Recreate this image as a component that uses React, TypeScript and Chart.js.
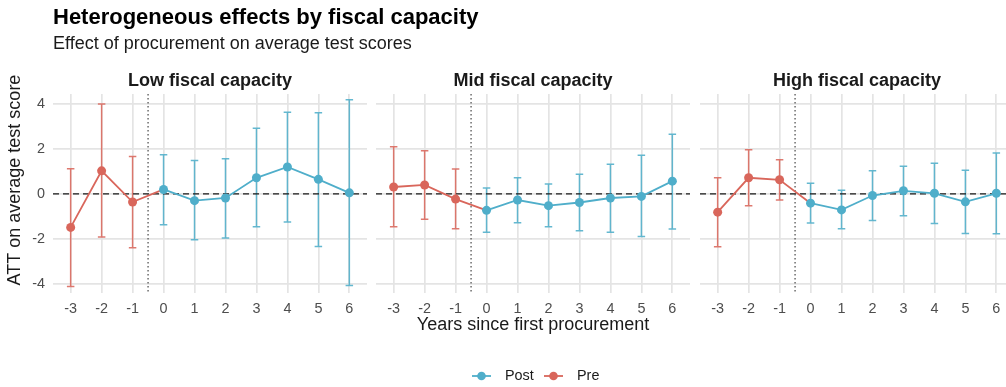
import React, { useEffect, useRef } from "react";
import { Chart, registerables } from "chart.js";

Chart.register(...registerables);

const FONT = '"Liberation Sans", Arial, Helvetica, sans-serif';
const PRE_COLOR = "#D9665B";
const POST_COLOR = "#4FAECA";
const PRE_ERR = "rgba(217,102,91,0.88)";
const POST_ERR = "rgba(79,174,202,0.88)";

// Event time (years relative to first procurement) and axis ticks
const years = [-3, -2, -1, 0, 1, 2, 3, 4, 5, 6];
const yTicks = [-4, -2, 0, 2, 4];

const panelTitles = ["Low fiscal capacity", "Mid fiscal capacity", "High fiscal capacity"];

// Point estimates and 95% interval bounds, one array per panel
const lowEst = [-1.49, 1.03, -0.36, 0.2, -0.3, -0.18, 0.72, 1.2, 0.65, 0.05];
const lowLo = [-4.12, -1.92, -2.39, -1.37, -2.04, -1.96, -1.46, -1.25, -2.34, -4.08];
const lowHi = [1.12, 4.0, 1.67, 1.74, 1.49, 1.57, 2.92, 3.64, 3.61, 4.19];

const midEst = [0.31, 0.4, -0.23, -0.73, -0.27, -0.52, -0.38, -0.18, -0.11, 0.57];
const midLo = [-1.46, -1.13, -1.55, -1.71, -1.28, -1.46, -1.64, -1.7, -1.89, -1.56];
const midHi = [2.1, 1.92, 1.11, 0.26, 0.72, 0.44, 0.88, 1.32, 1.72, 2.66];

const highEst = [-0.81, 0.72, 0.63, -0.41, -0.71, -0.07, 0.14, 0.03, -0.35, 0.03];
const highLo = [-2.35, -0.52, -0.27, -1.29, -1.55, -1.18, -0.97, -1.32, -1.76, -1.77];
const highHi = [0.72, 1.97, 1.52, 0.48, 0.17, 1.03, 1.23, 1.37, 1.06, 1.82];

const panelData = [
  { est: lowEst, lo: lowLo, hi: lowHi },
  { est: midEst, lo: midLo, hi: midHi },
  { est: highEst, lo: highLo, hi: highHi },
];

// Layout of the facet grid
const CANVAS_W = 1020;
const CANVAS_H = 387;
const AREA_LEFT = [53, 376, 700];
const AREA_RIGHT = [367, 690, 1014];
const AREA_TOP = 94;
const AREA_BOTTOM = 293;
const X_AXIS_H = 45;

type Pt = { x: number; y: number; lo: number; hi: number; bridge?: boolean };

function buildSeries(est: number[], lo: number[], hi: number[]) {
  const pts: Pt[] = years.map((x, i) => ({ x, y: est[i], lo: lo[i], hi: hi[i] }));
  const post = pts.filter((p) => p.x >= 0);
  // the pre-period line runs on to the first post-period estimate
  const pre = pts.filter((p) => p.x < 0).concat([{ ...post[0], bridge: true }]);
  return { pre, post };
}

const errorBarPlugin = {
  id: "errorBars",
  beforeDatasetsDraw(chart: any) {
    const { ctx, chartArea } = chart;
    const ys = chart.scales.y;
    const xs = chart.scales.x;
    for (let di = chart.data.datasets.length - 1; di >= 0; di--) {
      const ds = chart.data.datasets[di];
      const meta = chart.getDatasetMeta(di);
      ctx.save();
      ctx.strokeStyle = ds.errorColor;
      ctx.lineWidth = 1.5;
      meta.data.forEach((el: any, i: number) => {
        const p = ds.data[i] as Pt;
        if (p.bridge) return;
        const x = el.x;
        const top = ys.getPixelForValue(p.hi);
        const bot = ys.getPixelForValue(p.lo);
        ctx.beginPath();
        ctx.moveTo(x, top);
        ctx.lineTo(x, bot);
        ctx.moveTo(x - 3.75, top);
        ctx.lineTo(x + 3.75, top);
        ctx.moveTo(x - 3.75, bot);
        ctx.lineTo(x + 3.75, bot);
        ctx.stroke();
      });
      ctx.restore();
    }
    // zero reference line
    const y0 = ys.getPixelForValue(0);
    ctx.save();
    ctx.strokeStyle = "#1a1a1a";
    ctx.lineWidth = 1.3;
    ctx.setLineDash([6, 4]);
    ctx.beginPath();
    ctx.moveTo(chartArea.left, y0);
    ctx.lineTo(chartArea.right, y0);
    ctx.stroke();
    // treatment onset marker
    const xv = xs.getPixelForValue(-0.5);
    ctx.strokeStyle = "#555555";
    ctx.setLineDash([1.4, 2.6]);
    ctx.beginPath();
    ctx.moveTo(xv, chartArea.top);
    ctx.lineTo(xv, chartArea.bottom);
    ctx.stroke();
    ctx.restore();
  },
};

const stripPlugin = {
  id: "stripTitle",
  afterDraw(chart: any) {
    const { ctx, chartArea } = chart;
    const title = chart.options.plugins.stripTitle?.text;
    if (!title) return;
    ctx.save();
    ctx.font = `bold 18px ${FONT}`;
    ctx.fillStyle = "#1a1a1a";
    ctx.textAlign = "center";
    ctx.textBaseline = "alphabetic";
    ctx.fillText(title, (chartArea.left + chartArea.right) / 2, 86);
    ctx.restore();
  },
};

const overlayPlugin = {
  id: "overlay",
  afterDraw(chart: any) {
    if (!chart.options.plugins.overlay?.enabled) return;
    const { ctx } = chart;
    ctx.save();
    ctx.fillStyle = "#000000";
    ctx.textAlign = "left";
    ctx.textBaseline = "alphabetic";
    ctx.font = `bold 22px ${FONT}`;
    ctx.fillText("Heterogeneous effects by fiscal capacity", 53, 24);
    ctx.font = `18px ${FONT}`;
    ctx.fillStyle = "#1a1a1a";
    ctx.fillText("Effect of procurement on average test scores", 53, 49);

    // y axis title, centred on the facet block
    ctx.save();
    ctx.translate(15, 180);
    ctx.rotate(-Math.PI / 2);
    ctx.textAlign = "center";
    ctx.textBaseline = "middle";
    ctx.font = `18px ${FONT}`;
    ctx.fillText("ATT on average test score", 0, 0);
    ctx.restore();

    // legend
    const items = [
      { label: "Post", color: POST_COLOR, x: 472 },
      { label: "Pre", color: PRE_COLOR, x: 544 },
    ];
    const ly = 376;
    items.forEach((it) => {
      ctx.strokeStyle = it.color;
      ctx.fillStyle = it.color;
      ctx.lineWidth = 1.8;
      ctx.beginPath();
      ctx.moveTo(it.x, ly);
      ctx.lineTo(it.x + 19, ly);
      ctx.stroke();
      ctx.beginPath();
      ctx.arc(it.x + 9.5, ly, 4.3, 0, Math.PI * 2);
      ctx.fill();
      ctx.fillStyle = "#1a1a1a";
      ctx.font = `14.4px ${FONT}`;
      ctx.textAlign = "left";
      ctx.textBaseline = "middle";
      ctx.fillText(it.label, it.x + 33, ly + 0.5);
    });
    ctx.restore();
  },
};

function panelConfig(i: number): any {
  const d = panelData[i];
  const { pre, post } = buildSeries(d.est, d.lo, d.hi);
  const first = i === 0;
  const middle = i === 1;
  return {
    type: "line",
    data: {
      datasets: [
        {
          label: "Post",
          data: post,
          borderColor: POST_COLOR,
          backgroundColor: POST_COLOR,
          pointBackgroundColor: POST_COLOR,
          errorColor: POST_ERR,
          order: 0,
        },
        {
          label: "Pre",
          data: pre,
          borderColor: PRE_COLOR,
          backgroundColor: PRE_COLOR,
          pointBackgroundColor: PRE_COLOR,
          errorColor: PRE_ERR,
          pointRadius: (c: any) => (c.raw && c.raw.bridge ? 0 : 4.5),
          order: 1,
        },
      ],
    },
    options: {
      responsive: false,
      animation: false,
      devicePixelRatio: 1,
      events: [],
      layout: {
        padding: {
          left: first ? 0 : AREA_LEFT[i],
          right: CANVAS_W - AREA_RIGHT[i],
          top: AREA_TOP,
          bottom: CANVAS_H - AREA_BOTTOM - X_AXIS_H,
        },
      },
      elements: {
        line: { borderWidth: 1.8, tension: 0 },
        point: { radius: 4.5, borderWidth: 0, hoverRadius: 4.5 },
      },
      scales: {
        x: {
          type: "linear",
          min: -3.57,
          max: 6.57,
          afterBuildTicks: (s: any) => {
            s.ticks = years.map((v) => ({ value: v }));
          },
          afterFit: (s: any) => {
            s.height = X_AXIS_H;
          },
          grid: { color: "#E4E4E4", lineWidth: 1.7, drawTicks: false },
          border: { display: false },
          ticks: {
            autoSkip: false,
            maxRotation: 0,
            padding: 7,
            color: "#4D4D4D",
            font: { family: FONT, size: 14.4 },
            callback: (v: any) => String(v),
          },
          title: {
            display: middle,
            text: "Years since first procurement",
            color: "#1a1a1a",
            font: { family: FONT, size: 18 },
            padding: { top: 0, bottom: 2 },
          },
        },
        y: {
          min: -4.41,
          max: 4.45,
          afterBuildTicks: (s: any) => {
            s.ticks = yTicks.map((v) => ({ value: v }));
          },
          afterFit: (s: any) => {
            s.width = first ? AREA_LEFT[0] : 0;
          },
          grid: { color: "#E4E4E4", lineWidth: 1.7, drawTicks: false },
          border: { display: false },
          ticks: {
            display: first,
            padding: 8,
            color: "#4D4D4D",
            font: { family: FONT, size: 14.4 },
            callback: (v: any) => String(v),
          },
        },
      },
      plugins: {
        legend: { display: false },
        tooltip: { enabled: false },
        stripTitle: { text: panelTitles[i] },
        overlay: { enabled: first },
      },
    },
    plugins: [errorBarPlugin, stripPlugin, overlayPlugin],
  };
}

export default function App() {
  const r0 = useRef<HTMLCanvasElement>(null);
  const r1 = useRef<HTMLCanvasElement>(null);
  const r2 = useRef<HTMLCanvasElement>(null);
  const refs = [r0, r1, r2];

  useEffect(() => {
    const charts = refs.map((r, i) => new Chart(r.current as HTMLCanvasElement, panelConfig(i)));
    return () => charts.forEach((c) => c.destroy());
  }, []);

  return (
    <div
      style={{
        position: "fixed",
        left: 0,
        top: 0,
        width: 1006,
        height: 387,
        overflow: "hidden",
        background: "#ffffff",
      }}
    >
      {refs.map((r, i) => (
        <canvas
          key={i}
          ref={r}
          width={CANVAS_W}
          height={CANVAS_H}
          style={{ position: "absolute", left: 0, top: 0, width: CANVAS_W, height: CANVAS_H }}
        />
      ))}
    </div>
  );
}
